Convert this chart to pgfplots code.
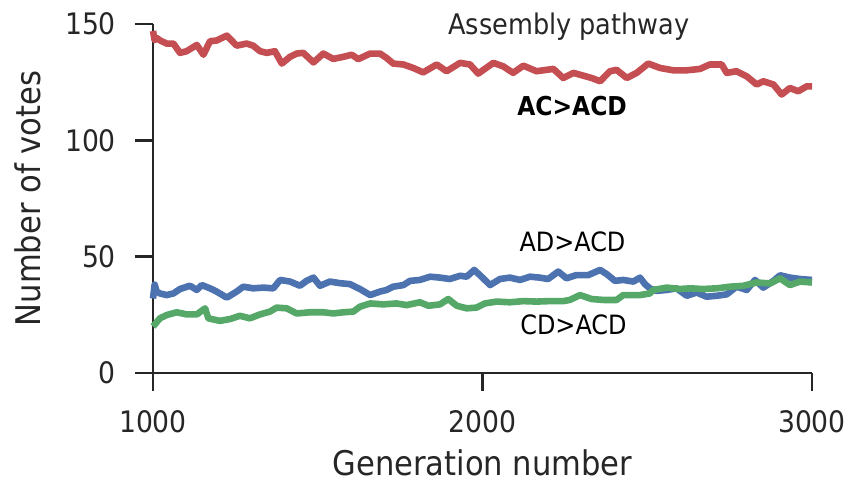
\documentclass[border=0pt]{standalone}
\usepackage{pgfplots}
\pgfplotsset{compat=1.18}
\usepackage{fontspec}
\setmainfont{DejaVu Sans Condensed}
\definecolor{sred}{HTML}{C44E52}
\definecolor{sblue}{HTML}{4C72B0}
\definecolor{sgreen}{HTML}{55A868}
\definecolor{dgray}{HTML}{262626}
\begin{document}
\begin{tikzpicture}
\begin{axis}[
  scale only axis=true,
  width=329.5pt, height=174.5pt,
  xmin=1000, xmax=3000, ymin=0, ymax=150,
  axis lines=left,
  axis line style={-, line width=1.25pt, dgray},
  tick align=outside,
  major tick length=9pt,
  tick style={line width=1.25pt, dgray},
  xtick={1000,2000,3000}, ytick={0,50,100,150},
  /pgf/number format/assume math mode=true,
  /pgf/number format/set thousands separator={},
  ticklabel style={font=\fontsize{14.8}{17}\selectfont, text=dgray},
  xticklabel style={yshift=-6pt},
  yticklabel style={xshift=-6pt},
  xlabel={Generation number},
  ylabel={Number of votes},
  label style={font=\fontsize{17}{20}\selectfont, text=dgray},
  xlabel style={at={(axis description cs:0.5,-0.258)}, anchor=center},
  ylabel style={at={(axis description cs:-0.19,0.5)}, anchor=center, rotate=0},
  clip=false,
  every axis plot/.append style={line width=3.3pt, line join=round, no markers},
]
\addplot[sred] coordinates {
(1000,147) (1005,143) (1011,144) (1021,143) (1041,141.6) (1062,141.6) (1082,137.6) (1102,138.3)
(1133,141) (1153,136.8) (1173,142.6) (1193,142.9) (1224,145) (1254,140.7) (1284,141.6)
(1304,140.7) (1325,138.3) (1345,137.6) (1370,138.3) (1391,133) (1416,135.9) (1436,137.3)
(1456,137.6) (1487,133.5) (1517,137.3) (1547,135) (1578,135.9) (1603,136.8) (1623,134.9)
(1659,137.3) (1689,137.3) (1709,135.4) (1729,133) (1760,132.6) (1790,131.1) (1820,129.2)
(1861,132.6) (1891,129.7) (1932,133.3) (1962,132.6) (1987,128.7) (2033,133.3) (2063,131.8)
(2093,129) (2124,132.1) (2164,129.7) (2215,130.7) (2245,126.8) (2276,129) (2306,127.8)
(2331,126.8) (2357,125.4) (2387,129.7) (2407,130.3) (2438,126.8) (2468,129) (2503,133)
(2539,131.1) (2579,130.1) (2620,130.1) (2660,130.7) (2690,132.6) (2726,132.6) (2741,129)
(2771,129.7) (2802,127.5) (2832,124) (2852,125.4) (2883,124) (2908,119.7) (2933,122.5)
(2958,121.1) (2984,123.2) (3000,123.2)
};
\addplot[sblue] coordinates {
(1000,32) (1005,38) (1011,35) (1021,34.2) (1041,33.5) (1062,34.2) (1082,36.1) (1112,37.5)
(1133,35.7) (1148,37.8) (1173,36.4) (1193,35) (1224,32.4) (1254,35) (1274,37.1) (1304,36.4)
(1335,36.7) (1365,36.4) (1386,40) (1416,39.3) (1446,37.5) (1466,39.6) (1487,41) (1507,37.5)
(1537,39.3) (1568,38.6) (1598,38.2) (1628,36.1) (1659,33.5) (1689,35) (1709,35.7) (1729,37.1)
(1760,37.8) (1780,39.6) (1810,40) (1841,41.4) (1871,41) (1901,40.4) (1932,41.8) (1952,41.4)
(1975,44.3) (1997,41.4) (2023,37.8) (2053,40.4) (2083,41) (2114,40) (2144,41.4) (2174,41)
(2199,40.4) (2230,43.6) (2255,40.7) (2285,42.1) (2321,42.1) (2357,44.3) (2377,42.5)
(2402,39.6) (2427,40) (2458,39.3) (2478,41) (2493,38.2) (2508,36.4) (2528,35.3) (2559,35.7)
(2589,36.4) (2620,33.2) (2650,34.6) (2680,32.8) (2711,33.2) (2741,33.8) (2771,37.1)
(2802,35.7) (2827,40) (2852,36.7) (2883,39.6) (2903,42) (2933,41) (2964,40.4) (3000,40)
};
\addplot[sgreen] coordinates {
(1000,20) (1008,21.3) (1021,23.5) (1041,24.9) (1072,26.1) (1102,25.2) (1133,25.2) (1158,27.8)
(1168,23.5) (1203,22.4) (1234,23.2) (1264,24.6) (1294,23.5) (1325,25.2) (1355,26.4) (1375,28.1)
(1406,27.8) (1436,25.6) (1477,26.1) (1517,26.1) (1547,25.6) (1578,26.1) (1608,26.4) (1628,28.5)
(1659,29.9) (1699,29.5) (1739,29.9) (1770,29.2) (1810,30.4) (1836,28.9) (1871,29.5) (1896,31.8)
(1922,28.9) (1952,27.8) (1982,28.1) (2007,29.9) (2043,30.7) (2083,30.4) (2124,30.9) (2164,30.7)
(2204,30.9) (2245,30.9) (2265,31.4) (2296,33.5) (2331,31.8) (2367,31.4) (2407,31.4) (2427,33.5)
(2478,33.5) (2508,34.2) (2518,35.7) (2559,36.7) (2599,36.1) (2630,36.4) (2670,36.1) (2711,36.4)
(2751,37.1) (2792,37.5) (2832,38.9) (2873,38.5) (2903,40.7) (2933,37.8) (2964,39.3) (3000,38.9)
};
\node[anchor=base, font=\fontsize{14.2}{17}\selectfont, text=dgray] at (axis cs:2262,145.4) {Assembly pathway};
\node[anchor=base, font=\fontsize{13}{16}\selectfont\bfseries, text=black] at (axis cs:2272,110.8) {AC>ACD};
\node[anchor=base, font=\fontsize{13.3}{16}\selectfont, text=black] at (axis cs:2273,52.2) {AD>ACD};
\node[anchor=base, font=\fontsize{13.3}{16}\selectfont, text=black] at (axis cs:2276,16.5) {CD>ACD};
\end{axis}
\pgfresetboundingbox
\path[use as bounding box] ([shift={(-76.5pt,-55.5pt)}]current axis.south west) rectangle ([shift={(19.5pt,12pt)}]current axis.north east);
\end{tikzpicture}
\end{document}
